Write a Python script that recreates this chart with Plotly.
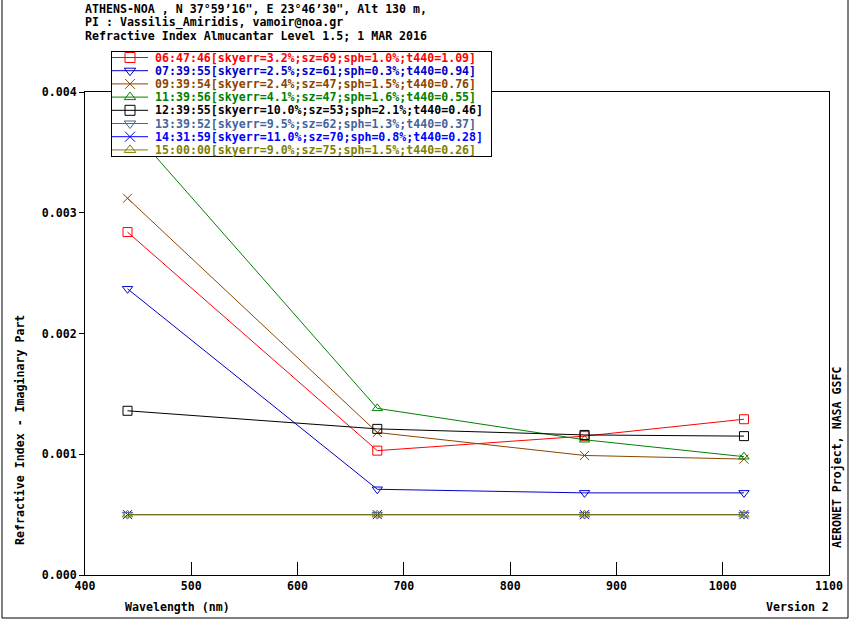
import plotly.graph_objects as go

# ==============================
# Data
# ==============================
wavelengths = [440, 675, 870, 1020]

labels = [
    "06:47:46[skyerr=3.2%;sz=69;sph=1.0%;t440=1.09]",
    "07:39:55[skyerr=2.5%;sz=61;sph=0.3%;t440=0.94]",
    "09:39:54[skyerr=2.4%;sz=47;sph=1.5%;t440=0.76]",
    "11:39:56[skyerr=4.1%;sz=47;sph=1.6%;t440=0.55]",
    "12:39:55[skyerr=10.0%;sz=53;sph=2.1%;t440=0.46]",
    "13:39:52[skyerr=9.5%;sz=62;sph=1.3%;t440=0.37]",
    "14:31:59[skyerr=11.0%;sz=70;sph=0.8%;t440=0.28]",
    "15:00:00[skyerr=9.0%;sz=75;sph=1.5%;t440=0.26]",
]

k_0647 = [0.00284, 0.00103, 0.00115, 0.00129]
k_0739 = [0.00237, 0.00071, 0.00068, 0.00068]
k_0939 = [0.00312, 0.00118, 0.00099, 0.00096]
k_1139 = [0.00373, 0.00138, 0.00112, 0.00098]
k_1239 = [0.00136, 0.00121, 0.00116, 0.00115]
k_1339 = [0.00050, 0.00050, 0.00050, 0.00050]
k_1431 = [0.00050, 0.00050, 0.00050, 0.00050]
k_1500 = [0.00050, 0.00050, 0.00050, 0.00050]

series = [k_0647, k_0739, k_0939, k_1139, k_1239, k_1339, k_1431, k_1500]

colors = ["#ff0000", "#0000c8", "#8b4500", "#008000",
          "#000000", "#44649c", "#0000ff", "#808000"]
symbols = ["square-open", "triangle-down-open", "x-thin-open", "triangle-up-open",
           "square-open", "triangle-down-open", "x-thin-open", "triangle-up-open"]

header = [
    "ATHENS-NOA , N 37°59’16\", E 23°46’30\", Alt 130 m,",
    "PI : Vassilis_Amiridis, vamoir@noa.gr",
    "Refractive Index Almucantar Level 1.5; 1 MAR 2016",
]

# ==============================
# Geometry helpers (window pixels -> paper)
# ==============================
W, H = 850, 620
ML, MR, MT, MB = 85, W - 829, 50, H - 575
PW, PH = W - ML - MR, H - MT - MB


def px_x(px):
    return (px - ML) / PW


def px_y(py):
    return (H - MB - py) / PH


FONT = dict(family="DejaVu Sans Mono", size=11.6, color="black", weight="bold")
MSIZE = 9

fig = go.Figure()

# main data
for vals, name, col, sym in zip(series, labels, colors, symbols):
    fig.add_trace(go.Scatter(
        x=wavelengths, y=vals, name=name, mode="lines+markers",
        line=dict(color=col, width=1),
        marker=dict(symbol=sym, size=MSIZE, color=col, line=dict(color=col, width=1)),
        showlegend=False, xaxis="x", yaxis="y",
    ))

# hand-made legend in an inset subplot (covers the lines like the original)
ITEM_Y0, ITEM_DY = 5.5, 13.2
for i, (name, col, sym) in enumerate(zip(labels, colors, symbols)):
    yy = ITEM_Y0 + ITEM_DY * i
    fig.add_trace(go.Scatter(
        x=[0, 36], y=[yy, yy], mode="lines", line=dict(color=col, width=1),
        showlegend=False, hoverinfo="skip", xaxis="x2", yaxis="y2",
    ))
    fig.add_trace(go.Scatter(
        x=[18], y=[yy], mode="markers",
        marker=dict(symbol=sym, size=MSIZE + 1, color=col, line=dict(color=col, width=1)),
        showlegend=False, hoverinfo="skip", xaxis="x2", yaxis="y2",
    ))
    fig.add_annotation(
        x=41, y=yy, xref="x2", yref="y2", text=name, showarrow=False,
        xanchor="left", yanchor="middle", font=dict(FONT, color=col),
    )

# header lines
for j, line in enumerate(header):
    fig.add_annotation(
        x=px_x(83), y=px_y(9 + 13.5 * j), xref="paper", yref="paper",
        text=line, showarrow=False, xanchor="left", yanchor="middle", font=FONT,
    )

# axis titles and side notes
fig.add_annotation(x=px_x(20), y=px_y(430), xref="paper", yref="paper",
                   text="Refractive Index - Imaginary Part", textangle=-90,
                   showarrow=False, xanchor="center", yanchor="middle", font=FONT)
fig.add_annotation(x=px_x(123), y=px_y(607), xref="paper", yref="paper",
                   text="Wavelength (nm)", showarrow=False,
                   xanchor="left", yanchor="middle", font=FONT)
fig.add_annotation(x=px_x(831), y=px_y(607), xref="paper", yref="paper",
                   text="Version 2", showarrow=False,
                   xanchor="right", yanchor="middle", font=FONT)
fig.add_annotation(x=px_x(837), y=px_y(457), xref="paper", yref="paper",
                   text="AERONET Project, NASA GSFC", textangle=-90,
                   showarrow=False, xanchor="center", yanchor="middle", font=FONT)

# outer frame of the image
fig.add_shape(
    type="path", xref="paper", yref="paper",
    path=(f"M {px_x(2)} {px_y(-2)} L {px_x(2)} {px_y(618)} "
          f"L {px_x(848)} {px_y(618)} L {px_x(848)} {px_y(-2)}"),
    line=dict(color="black", width=1),
)

fig.update_layout(
    template="none",
    width=W, height=H, autosize=False,
    margin=dict(l=ML, r=MR, t=MT, b=MB, pad=0),
    paper_bgcolor="white", plot_bgcolor="white",
    font=FONT, showlegend=False,
    xaxis=dict(
        domain=[0, 1], range=[400, 1100], dtick=100, anchor="y", automargin=False,
        ticks="inside", ticklen=13, tickcolor="black",
        showline=True, linecolor="black", linewidth=1, mirror=True,
        showgrid=False, zeroline=False,
    ),
    yaxis=dict(
        domain=[0, px_y(92)], range=[0, 0.004], dtick=0.001, tickformat=".3f",
        anchor="x", automargin=False, ticks="outside", ticklen=5, tickcolor="black",
        showline=True, linecolor="black", linewidth=1, mirror=True,
        showgrid=False, zeroline=False,
    ),
    xaxis2=dict(
        domain=[px_x(112), px_x(491)], range=[0, 379], anchor="y2", automargin=False,
        showline=True, linecolor="black", linewidth=1, mirror=True,
        showticklabels=False, ticks="", showgrid=False, zeroline=False,
    ),
    yaxis2=dict(
        domain=[px_y(156), px_y(52)], range=[104, 0], anchor="x2", automargin=False,
        showline=True, linecolor="black", linewidth=1, mirror=True,
        showticklabels=False, ticks="", showgrid=False, zeroline=False,
    ),
)

# drop the page's default 8px body margin so the figure sits at (0, 0)
fig.write_html(
    "out.html",
    config={"displayModeBar": False, "responsive": False},
    post_script="document.body.style.margin = '0px'; document.body.style.overflow = 'hidden';",
)
